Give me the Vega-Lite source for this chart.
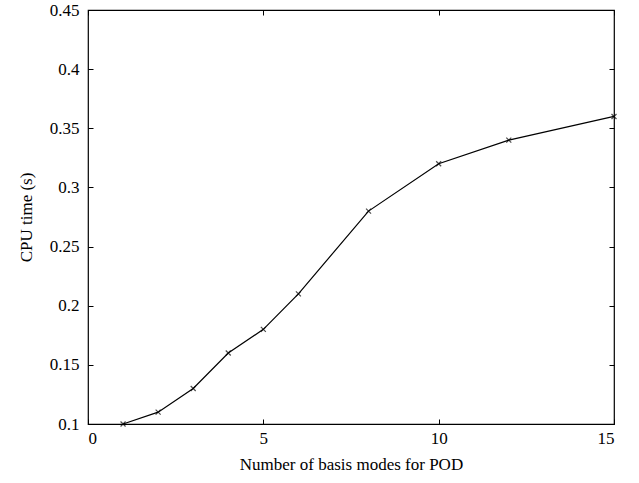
{
  "$schema": "https://vega.github.io/schema/vega-lite/v6.json",
  "width": 526,
  "height": 414,
  "autosize": "none",
  "padding": {"left": 88, "top": 10, "right": 25, "bottom": 59},
  "background": "white",
  "config": {
    "view": {"stroke": "black", "strokeWidth": 1.2},
    "axis": {
      "labelFont": "Liberation Serif",
      "titleFont": "Liberation Serif",
      "labelFontSize": 17,
      "titleFontSize": 17,
      "titleFontWeight": "normal",
      "labelColor": "black",
      "titleColor": "black",
      "domain": false,
      "grid": false,
      "tickColor": "black",
      "tickSize": -5,
      "tickWidth": 1
    }
  },
  "data": {"values": [
    {"modes": 1, "cpu": 0.1},
    {"modes": 2, "cpu": 0.11},
    {"modes": 3, "cpu": 0.13},
    {"modes": 4, "cpu": 0.16},
    {"modes": 5, "cpu": 0.18},
    {"modes": 6, "cpu": 0.21},
    {"modes": 8, "cpu": 0.28},
    {"modes": 10, "cpu": 0.32},
    {"modes": 12, "cpu": 0.34},
    {"modes": 15, "cpu": 0.36}
  ]},
  "resolve": {"axis": {"x": "independent", "y": "independent"}},
  "layer": [
    {
      "mark": {"type": "line", "color": "black", "strokeWidth": 1.2},
      "encoding": {
        "x": {"field": "modes", "type": "quantitative", "scale": {"domain": [0, 15], "nice": false},
          "axis": {"orient": "bottom", "values": [0, 5, 10, 15], "title": "Number of basis modes for POD", "labelPadding": 11, "titlePadding": 10}},
        "y": {"field": "cpu", "type": "quantitative", "scale": {"domain": [0.1, 0.45], "nice": false, "zero": false},
          "axis": {"orient": "left", "values": [0.1, 0.15, 0.2, 0.25, 0.3, 0.35, 0.4, 0.45], "format": "~g", "title": "CPU time (s)", "labelPadding": 14, "titlePadding": 14}}
      }
    },
    {
      "mark": {"type": "point", "shape": "M-1,-1L1,1M-1,1L1,-1", "filled": false, "stroke": "black", "strokeWidth": 1.2, "size": 25},
      "encoding": {
        "x": {"field": "modes", "type": "quantitative",
          "axis": {"orient": "top", "values": [0, 5, 10, 15], "labels": false, "title": null}},
        "y": {"field": "cpu", "type": "quantitative",
          "axis": {"orient": "right", "values": [0.1, 0.15, 0.2, 0.25, 0.3, 0.35, 0.4, 0.45], "labels": false, "title": null}}
      }
    }
  ]
}
